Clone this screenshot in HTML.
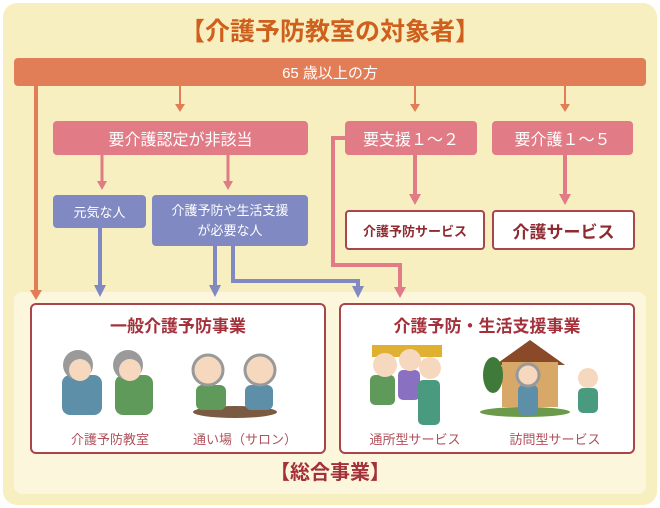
<!DOCTYPE html>
<html><head><meta charset="utf-8"><style>
body{margin:0;width:660px;height:508px;background:#fff;overflow:hidden;font-family:"Liberation Sans","Noto Sans CJK JP",sans-serif}
.a{position:absolute}
.t{display:flex;align-items:center;justify-content:center;text-align:center;color:#fff}
</style></head><body>
<div class="a" style="left:3px;top:3px;width:654px;height:502px;background:#f7efc0;border-radius:14px"></div>
<div class="a t" style="left:0;top:12px;width:660px;height:36px;color:#cf5f1c;font-size:25px;font-weight:bold">【介護予防教室の対象者】</div>
<div class="a t" style="left:14px;top:58px;width:632px;height:28px;background:#e27e57;border-radius:4px;font-size:15px">65 歳以上の方</div>
<div class="a" style="left:14px;top:292px;width:632px;height:202px;background:#fcf6dd;border-radius:8px"></div>
<div class="a t" style="left:53px;top:121px;width:255px;height:34px;background:#e17b86;border-radius:4px;font-size:16px">要介護認定が非該当</div>
<div class="a t" style="left:345px;top:121px;width:132px;height:34px;background:#e17b86;border-radius:4px;font-size:16px">要支援１～２</div>
<div class="a t" style="left:492px;top:121px;width:141px;height:34px;background:#e17b86;border-radius:4px;font-size:16px">要介護１～５</div>
<div class="a t" style="left:53px;top:195px;width:93px;height:33px;background:#8189c2;border-radius:4px;font-size:13px">元気な人</div>
<div class="a t" style="left:152px;top:195px;width:156px;height:51px;background:#8189c2;border-radius:4px;font-size:13px;line-height:20px">介護予防や生活支援<br>が必要な人</div>
<div class="a t" style="left:345px;top:210px;width:136px;height:36px;background:#fff;border:2px solid #a8464c;border-radius:4px;font-size:13px;color:#8e2a30;font-weight:bold">介護予防サービス</div>
<div class="a t" style="left:492px;top:210px;width:139px;height:36px;background:#fff;border:2px solid #a8464c;border-radius:4px;font-size:17px;color:#8e2a30;font-weight:bold">介護サービス</div>
<div class="a" style="left:30px;top:303px;width:292px;height:147px;background:#fff;border:2px solid #a8464c;border-radius:6px"></div>
<div class="a" style="left:339px;top:303px;width:292px;height:147px;background:#fff;border:2px solid #a8464c;border-radius:6px"></div>
<div class="a t" style="left:30px;top:311px;width:296px;height:26px;color:#a3303a;font-size:17px;font-weight:bold">一般介護予防事業</div>
<div class="a t" style="left:339px;top:311px;width:296px;height:26px;color:#a3303a;font-size:17px;font-weight:bold">介護予防・生活支援事業</div>
<div class="a t" style="left:40px;top:428px;width:140px;height:20px;color:#b0505a;font-size:13px">介護予防教室</div>
<div class="a t" style="left:170px;top:428px;width:150px;height:20px;color:#b0505a;font-size:13px">通い場（サロン）</div>
<div class="a t" style="left:345px;top:428px;width:140px;height:20px;color:#b0505a;font-size:13px">通所型サービス</div>
<div class="a t" style="left:480px;top:428px;width:150px;height:20px;color:#b0505a;font-size:13px">訪問型サービス</div>
<div class="a t" style="left:0;top:456px;width:660px;height:28px;color:#a3303a;font-size:20px;font-weight:bold">【総合事業】</div>
<svg class="a" style="left:0;top:0" width="660" height="508">
<g stroke-width="4" fill="none">
<path d="M36 86V292" stroke="#e27e57"/>
<path d="M180 86V104M415 86V104M565 86V104" stroke="#e27e57" stroke-width="2"/>
<path d="M102 155V181M228 155V181" stroke="#e17b86" stroke-width="3"/>
<path d="M415 155V195M565 155V195" stroke="#e17b86"/>
<path d="M345 138H333V265H400V288" stroke="#e17b86"/>
<path d="M100 228V286M215 246V286M233 246V281H358V288" stroke="#8189c2"/>
</g>
<g>
<path d="M30 290l6 10 6-10z" fill="#e27e57"/>
<path d="M175 104l5 8 5-8z M410 104l5 8 5-8z M560 104l5 8 5-8z" fill="#e27e57"/>
<path d="M97 181l5 9 5-9z M223 181l5 9 5-9z" fill="#e17b86"/>
<path d="M409 194l6 11 6-11z M559 194l6 11 6-11z M394 287l6 11 6-11z" fill="#e17b86"/>
<path d="M94 285l6 12 6-12z M209 285l6 12 6-12z M352 286l6 12 6-12z" fill="#8189c2"/>
</g>
<g>
<rect x="62" y="375" width="40" height="40" rx="8" fill="#5d8fa8"/><circle cx="78" cy="365" r="15" fill="#9a9a9a"/><circle cx="80" cy="370" r="11" fill="#f6d8bf"/>
<rect x="115" y="375" width="38" height="40" rx="8" fill="#5f9a5a"/><circle cx="128" cy="365" r="15" fill="#9a9a9a"/><circle cx="130" cy="370" r="11" fill="#f6d8bf"/>
<ellipse cx="235" cy="412" rx="42" ry="6" fill="#7a5a40"/>
<rect x="196" y="385" width="30" height="25" rx="6" fill="#5f9a5a"/><circle cx="208" cy="370" r="15" fill="#f6d8bf" stroke="#999" stroke-width="3"/>
<rect x="245" y="385" width="28" height="25" rx="6" fill="#5d8fa8"/><circle cx="260" cy="370" r="15" fill="#f6d8bf" stroke="#999" stroke-width="3"/>
<rect x="372" y="345" width="70" height="12" fill="#e0b030"/>
<rect x="370" y="375" width="25" height="30" rx="5" fill="#5f9a5a"/><circle cx="385" cy="365" r="12" fill="#f6d8bf"/>
<rect x="398" y="370" width="22" height="30" rx="5" fill="#8a70c0"/><circle cx="410" cy="360" r="11" fill="#f6d8bf"/>
<rect x="418" y="380" width="22" height="45" rx="5" fill="#4a9a80"/><circle cx="430" cy="368" r="11" fill="#f6d8bf"/>
<path d="M495 365l35-25 35 25z" fill="#8a4a2a"/><rect x="502" y="362" width="56" height="45" fill="#d8a868"/>
<ellipse cx="493" cy="375" rx="10" ry="18" fill="#3f7a3a"/><ellipse cx="525" cy="412" rx="45" ry="5" fill="#6a9a4a"/>
<rect x="518" y="385" width="20" height="30" rx="5" fill="#5d8fa8"/><circle cx="528" cy="375" r="11" fill="#f6d8bf" stroke="#999" stroke-width="3"/>
<rect x="578" y="388" width="20" height="25" rx="5" fill="#4a9a80"/><circle cx="588" cy="378" r="10" fill="#f6d8bf"/>
</g>
</svg>
</body></html>
